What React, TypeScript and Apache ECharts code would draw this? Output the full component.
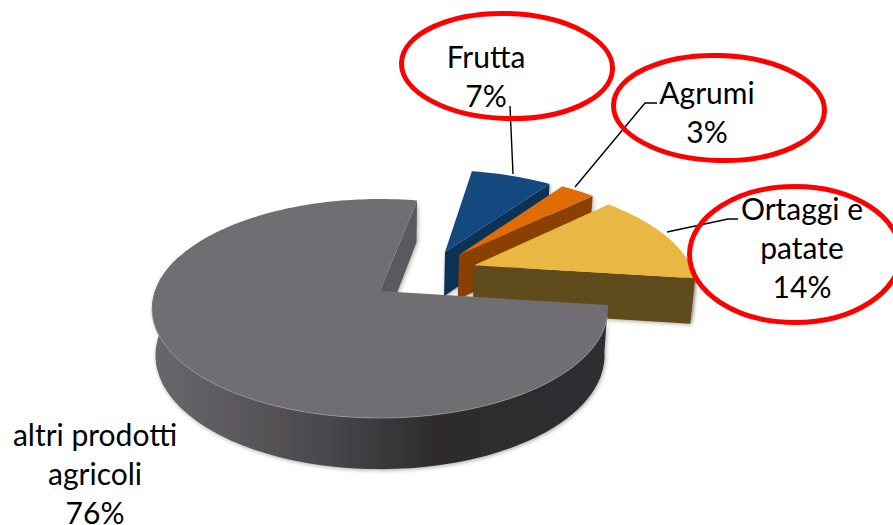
import React, { useEffect, useRef } from "react";
import * as echarts from "echarts";

const categories = ["Frutta", "Agrumi", "Ortaggi e\npatate", "altri prodotti\nagricoli"];
const shares = [7, 3, 14, 76];
const topColors = ["#14497f", "#e06b07", "#e9b844", "#706e73"];
const wallColors = ["#0d3259", "#8a4006", "#614b1f", "#5b595e"];

// Where each slice sits on the tilted disc, in disc units (pulled-out slices).
const sliceOffsets = [
  [0.307, -0.388],
  [0.371, -0.357],
  [0.435, -0.25],
  [0, 0],
];

const FIRST_ANGLE = 281;
const CX = 380;
const CY = 291;
const RX = 225;
const RY = 106.7;
const TILT = 0.16;
const DEPTH = 46;

// Perspective projection of a disc point, optionally on the lower plane of the pie.
function project(x: number, y: number, lower = false): number[] {
  const w = 1 - TILT * y;
  const px = (RX * x) / w;
  const py = (RY * y) / w;
  if (!lower) return [CX + px, CY + py];
  return [CX + px * 0.985, CY + py + DEPTH / (1 - 0.1 * y)];
}

function rim(deg: number, off: number[], lower = false): number[] {
  const r = (deg * Math.PI) / 180;
  return project(Math.cos(r) + off[0], Math.sin(r) + off[1], lower);
}

function arcPoints(a: number, b: number, off: number[], lower = false): number[][] {
  const n = Math.max(2, Math.ceil(Math.abs(b - a) / 1.5));
  const pts: number[][] = [];
  for (let i = 0; i <= n; i++) pts.push(rim(a + ((b - a) * i) / n, off, lower));
  return pts;
}

const darkWall = new echarts.graphic.LinearGradient(0, 0, 1, 0, [
  { offset: 0, color: "#69676c" },
  { offset: 0.35, color: "#4d4b4f" },
  { offset: 0.62, color: "#2d2c2e" },
  { offset: 1, color: "#2e2d30" },
]);

function renderSlice(params: any, api: any) {
  const i = params.dataIndex;
  let start = FIRST_ANGLE;
  for (let k = 0; k < i; k++) start += (shares[k] / 100) * 360;
  const end = start + (api.value(0) / 100) * 360;
  const off = sliceOffsets[i];
  const apex = project(off[0], off[1]);
  const apexLow = project(off[0], off[1], true);
  const soft = { shadowBlur: 4, shadowColor: "rgba(0,0,0,0.35)", shadowOffsetX: 1, shadowOffsetY: 1 };
  const children: any[] = [];

  // Outer wall, only where the rim turns towards the viewer.
  const a = start % 360;
  const span = end - start;
  const from = Math.max(a, 360 - 5);
  const isWrapping = a + span > 360;
  const wallFrom = a < 200 ? a : isWrapping ? from : null;
  if (wallFrom !== null) {
    const wallTo = a < 200 ? Math.min(a + span, 200) : a + span;
    const up = arcPoints(wallFrom, wallTo, off);
    const low = arcPoints(wallFrom, wallTo, off, true).reverse();
    children.push({
      type: "polygon",
      shape: { points: up.concat(low) },
      style: { fill: i === 3 ? darkWall : wallColors[i], ...soft },
    });
  }

  // Cut wall along the clockwise edge of the slice.
  children.push({
    type: "polygon",
    shape: { points: [apex, rim(end, off), rim(end, off, true), apexLow] },
    style: { fill: wallColors[i], ...soft },
  });

  // Top face.
  children.push({
    type: "polygon",
    shape: { points: [apex, ...arcPoints(start, end, off)] },
    style: { fill: topColors[i] },
  });

  // Light bevel on the front edge of the large slice.
  if (i === 3) {
    children.push({
      type: "polyline",
      shape: { points: arcPoints(a + 6, 172, off) },
      style: { stroke: "#99979c", lineWidth: 1, fill: "none", opacity: 0.75 },
    });
  }
  return { type: "group", children };
}

const labelFont = { fontFamily: "Lato", fontSize: 30, lineHeight: 39, fill: "#000", align: "center" as const };
const labelOf = (i: number) => `${categories[i]}\n${shares[i]}%`;

const ring = (cx: number, cy: number, rx: number, ry: number, rotation = 0) => ({
  type: "ellipse",
  x: cx,
  y: cy,
  rotation,
  shape: { cx: 0, cy: 0, rx, ry },
  style: { fill: "none", stroke: "#ff0000", lineWidth: 5 },
  z: 20,
});

const leader = (points: number[][]) => ({
  type: "polyline",
  shape: { points },
  style: { fill: "none", stroke: "#000", lineWidth: 1.4 },
  z: 10,
});

const label = (i: number, x: number, y: number) => ({
  type: "text",
  x,
  y,
  style: { text: labelOf(i), verticalAlign: "top", ...labelFont },
  z: 30,
});

export default function App() {
  const ref = useRef<HTMLDivElement>(null);
  useEffect(() => {
    document.body.style.margin = "0";
    const chart = echarts.init(ref.current!, null, { renderer: "svg" });
    chart.setOption({
      animation: false,
      backgroundColor: "#ffffff",
      series: [
        {
          type: "custom",
          coordinateSystem: "none",
          silent: true,
          renderItem: renderSlice,
          data: shares.map((v) => [v]),
        },
      ],
      graphic: [
        leader([[510, 106], [513, 174]]),
        leader([[575, 187], [645, 103], [657, 103]]),
        leader([[667, 232], [728, 219], [738, 219]]),
        ring(507, 66, 105.5, 52.5, -0.03),
        ring(719, 108, 105.5, 52.5, -0.03),
        ring(795, 254.5, 105.5, 68),
        label(0, 486, 36),
        label(1, 707, 72),
        label(2, 802, 188),
        label(3, 95, 414),
      ],
    });
    return () => chart.dispose();
  }, []);
  return <div ref={ref} style={{ position: "fixed", left: 0, top: 0, width: 893, height: 525 }} />;
}
